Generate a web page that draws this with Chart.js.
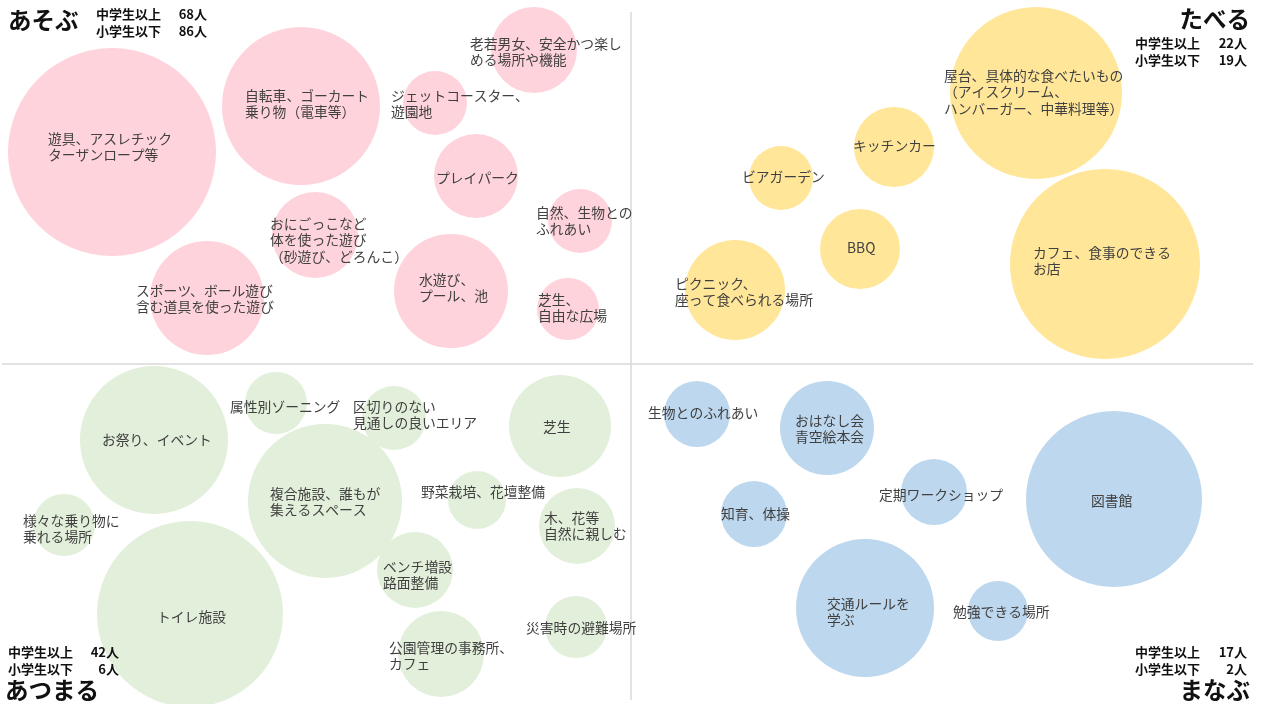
<!DOCTYPE html>
<html><head><meta charset="utf-8">
<script src="https://cdn.jsdelivr.net/npm/chart.js@4"></script>
<style>html,body{margin:0;padding:0;background:#fff;overflow:hidden}canvas{display:block}</style>
</head><body>
<canvas id="c" width="1264" height="704"></canvas>
<script>
// ---- data ----
const groupNames = ['あそぶ', 'たべる', 'あつまる', 'まなぶ'];
const juniorHighAndUp = [68, 22, 42, 17];
const elementaryAndDown = [86, 19, 6, 2];

const asobuLabels = ['遊具、アスレチック\nターザンロープ等', '自転車、ゴーカート\n乗り物（電車等）', '老若男女、安全かつ楽し\nめる場所や機能', 'ジェットコースター、\n遊園地', 'プレイパーク', 'おにごっこなど\n体を使った遊び\n（砂遊び、どろんこ）', 'スポーツ、ボール遊び\n含む道具を使った遊び', '水遊び、\nプール、池', '自然、生物との\nふれあい', '芝生、\n自由な広場'];
const asobuX = [112, 301, 534, 435, 476, 315, 207, 451, 580, 568];
const asobuY = [152, 106, 50, 103, 176, 235, 298, 291, 221, 309];
const asobuR = [104, 79, 43, 32, 42, 43, 57, 57, 32, 31];

const taberuLabels = ['屋台、具体的な食べたいもの\n（アイスクリーム、\nハンバーガー、中華料理等）', 'カフェ、食事のできる\nお店', 'キッチンカー', 'ビアガーデン', 'BBQ', 'ピクニック、\n座って食べられる場所'];
const taberuX = [1036, 1105, 894, 781, 860, 735];
const taberuY = [93, 264, 147, 178, 249, 290];
const taberuR = [86, 95, 40, 32, 40, 50];

const atsumaruLabels = ['お祭り、イベント', '属性別ゾーニング', '様々な乗り物に\n乗れる場所', '複合施設、誰もが\n集えるスペース', 'トイレ施設', '区切りのない\n見通しの良いエリア', '芝生', '野菜栽培、花壇整備', '木、花等\n自然に親しむ', 'ベンチ増設\n路面整備', '公園管理の事務所、\nカフェ', '災害時の避難場所'];
const atsumaruX = [154, 276, 64, 325, 190, 394, 560, 477, 577, 415, 441, 576];
const atsumaruY = [440, 403, 525, 501, 614, 418, 426, 500, 526, 570, 654, 627];
const atsumaruR = [74, 31, 31, 77, 93, 32, 51, 29, 38, 38, 43, 31];

const manabuLabels = ['生物とのふれあい', 'おはなし会\n青空絵本会', '知育、体操', '定期ワークショップ', '図書館', '交通ルールを\n学ぶ', '勉強できる場所'];
const manabuX = [697, 827, 754, 934, 1114, 865, 998];
const manabuY = [414, 428, 514, 492, 499, 608, 611];
const manabuR = [33, 47, 33, 33, 88, 69, 30];

// ---- layout (label anchor offsets from bubble centre, px) ----
const labelOffsets = [
  [[-64,-5],[-56,-2],[-64,2],[-44,1],[-40,2],[-45,5],[-71,1],[-32,-3],[-44,0],[-30,-1]],
  [[-92,-1],[-72,-3],[-41,-1],[-39,-1],[-13,-1],[-60,2]],
  [[-52,0],[-46,4],[-41,4],[-55,1],[-33,3],[-41,-3],[-17,1],[-56,-8],[-33,0],[-32,5],[-52,2],[-50,1]],
  [[-49,-1],[-32,1],[-33,0],[-55,3],[-23,2],[-38,4],[-45,1]]
];
const colors = ['#FFD3DC', '#FFE699', '#E2EFDA', '#BDD7EE'];

function mk(labels, xs, ys, rs) {
  return labels.map((l, i) => ({x: xs[i], y: ys[i], r: rs[i], label: l}));
}
const sets = [
  mk(asobuLabels, asobuX, asobuY, asobuR),
  mk(taberuLabels, taberuX, taberuY, taberuR),
  mk(atsumaruLabels, atsumaruX, atsumaruY, atsumaruR),
  mk(manabuLabels, manabuX, manabuY, manabuR)
];

const FONT = '"Noto Sans CJK JP", "Noto Sans", sans-serif';

const overlay = {
  id: 'overlay',
  beforeDatasetsDraw(chart) {
    const {ctx, scales: {x, y}} = chart;
    ctx.save();
    ctx.strokeStyle = '#D9D9D9';
    ctx.lineWidth = 1.5;
    ctx.beginPath();
    ctx.moveTo(x.getPixelForValue(631), y.getPixelForValue(12));
    ctx.lineTo(x.getPixelForValue(631), y.getPixelForValue(700));
    ctx.moveTo(x.getPixelForValue(2), y.getPixelForValue(364));
    ctx.lineTo(x.getPixelForValue(1253), y.getPixelForValue(364));
    ctx.stroke();
    ctx.restore();
  },
  afterDatasetsDraw(chart) {
    const {ctx} = chart;
    ctx.save();
    ctx.fillStyle = '#404040';
    ctx.font = '13.8px ' + FONT;
    ctx.textAlign = 'left';
    ctx.textBaseline = 'middle';
    const lh = 16.5;
    chart.data.datasets.forEach((ds, di) => {
      const meta = chart.getDatasetMeta(di);
      meta.data.forEach((el, i) => {
        const lines = ds.data[i].label.split('\n');
        const off = labelOffsets[di][i];
        const x0 = el.x + off[0];
        const yc = el.y + off[1];
        const y0 = yc - (lines.length - 1) * lh / 2;
        lines.forEach((t, k) => ctx.fillText(t, x0, y0 + k * lh));
      });
    });
    // group titles & counts
    const blocks = [
      {title: [8, 20, 'left'], rows: [14, 31], left: 96, right: 207},
      {title: [1250, 19, 'right'], rows: [43, 60], left: 1135, right: 1247},
      {title: [5, 690, 'left'], rows: [652, 669], left: 8, right: 119},
      {title: [1250, 690, 'right'], rows: [652, 669], left: 1135, right: 1247}
    ];
    ctx.fillStyle = '#111';
    blocks.forEach((b, g) => {
      ctx.font = 'bold 23.5px ' + FONT;
      ctx.textAlign = b.title[2];
      ctx.fillText(groupNames[g], b.title[0], b.title[1]);
      ctx.font = 'bold 13px ' + FONT;
      ctx.textAlign = 'left';
      ctx.fillText('中学生以上', b.left, b.rows[0]);
      ctx.fillText('小学生以下', b.left, b.rows[1]);
      ctx.textAlign = 'right';
      ctx.fillText(juniorHighAndUp[g] + '人', b.right, b.rows[0]);
      ctx.fillText(elementaryAndDown[g] + '人', b.right, b.rows[1]);
    });
    ctx.restore();
  }
};

new Chart(document.getElementById('c'), {
  type: 'bubble',
  data: {
    datasets: sets.map((d, i) => ({
      label: groupNames[i],
      data: d,
      backgroundColor: colors[i],
      borderWidth: 0,
      hoverBorderWidth: 0,
      clip: false
    }))
  },
  options: {
    responsive: false,
    animation: false,
    events: [],
    layout: {padding: 0, autoPadding: false},
    scales: {
      x: {type: 'linear', min: 0, max: 1264, display: false},
      y: {type: 'linear', min: 0, max: 704, reverse: true, display: false}
    },
    plugins: {legend: {display: false}, tooltip: {enabled: false}}
  },
  plugins: [overlay]
});
</script>
</body></html>
